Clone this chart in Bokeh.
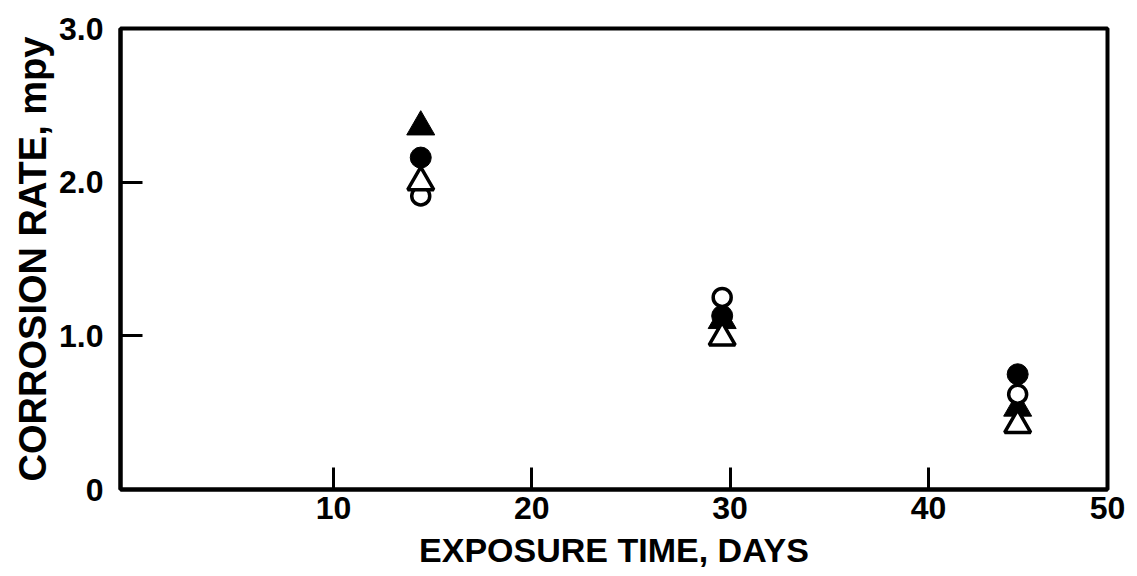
from bokeh.plotting import figure
from bokeh.models import Range1d, FixedTicker, ColumnDataSource
from bokeh.embed import file_html
from bokeh.resources import INLINE

# ---- data ----
exposure_days = [14.4, 29.6, 44.5]
filled_triangle = [2.36, 1.10, 0.53]
filled_circle = [2.16, 1.13, 0.75]
open_triangle = [2.00, 0.99, 0.42]
open_circle = [1.91, 1.25, 0.62]

x_ticks = [10, 20, 30, 40]
x_tick_labels = ["10", "20", "30", "40", "50"]
y_ticks = [0, 1, 2, 3]
y_tick_labels = ["0", "1.0", "2.0", "3.0"]

X_START, X_END = -0.74, 49.03
Y_START, Y_END = 0, 3

FONT = "Liberation Sans"

p = figure(width=1137, height=576, output_backend="svg", toolbar_location=None,
           x_range=Range1d(X_START, X_END), y_range=Range1d(Y_START, Y_END),
           min_border_left=120, min_border_right=30, min_border_top=28,
           min_border_bottom=87)
p.background_fill_color = "white"
p.border_fill_color = "white"
p.grid.visible = False
p.outline_line_color = "black"
p.outline_line_width = 4

# x axis: last label "50" sits at the right frame edge
xt = list(x_ticks) + [X_END]
p.xaxis.ticker = FixedTicker(ticks=xt)
p.xaxis.major_label_overrides = {t: lab for t, lab in zip(xt, x_tick_labels)}
p.yaxis.ticker = FixedTicker(ticks=y_ticks)
p.yaxis.major_label_overrides = {t: lab for t, lab in zip(y_ticks, y_tick_labels)}

for ax in (p.xaxis, p.yaxis):
    ax.axis_line_color = "black"
    ax.axis_line_width = 4
    ax.major_tick_in = 22
    ax.major_tick_out = 0
    ax.major_tick_line_width = 3
    ax.major_tick_line_color = "black"
    ax.minor_tick_line_color = None
    ax.major_label_text_font = FONT
    ax.major_label_text_font_style = "bold"
    ax.major_label_text_font_size = "32px"
    ax.major_label_text_color = "black"
    ax.axis_label_text_font = FONT
    ax.axis_label_text_font_style = "bold"
    ax.axis_label_text_color = "black"

p.xaxis.axis_label = "EXPOSURE TIME, DAYS"
p.yaxis.axis_label = "CORROSION RATE, mpy"
p.xaxis.axis_label_text_font_size = "34px"
p.yaxis.axis_label_text_font_size = "38px"
p.xaxis.major_label_standoff = 7
p.xaxis.axis_label_standoff = 9
p.yaxis.major_label_standoff = 17
p.yaxis.axis_label_standoff = 2

src = ColumnDataSource(dict(x=exposure_days, ft=filled_triangle, fc=filled_circle,
                            ot=open_triangle, oc=open_circle))

p.scatter("x", "fc", source=src, marker="circle", size=21,
          fill_color="black", line_color="black", line_width=1)
p.scatter("x", "ft", source=src, marker="triangle", size=28,
          fill_color="black", line_color="black", line_width=1)
p.scatter("x", "oc", source=src, marker="circle", size=18,
          fill_color="white", line_color="black", line_width=3.5)
p.scatter("x", "ot", source=src, marker="triangle", size=26,
          fill_color="white", line_color="black", line_width=3.5)

open("out.html", "w").write(file_html(p, INLINE))
